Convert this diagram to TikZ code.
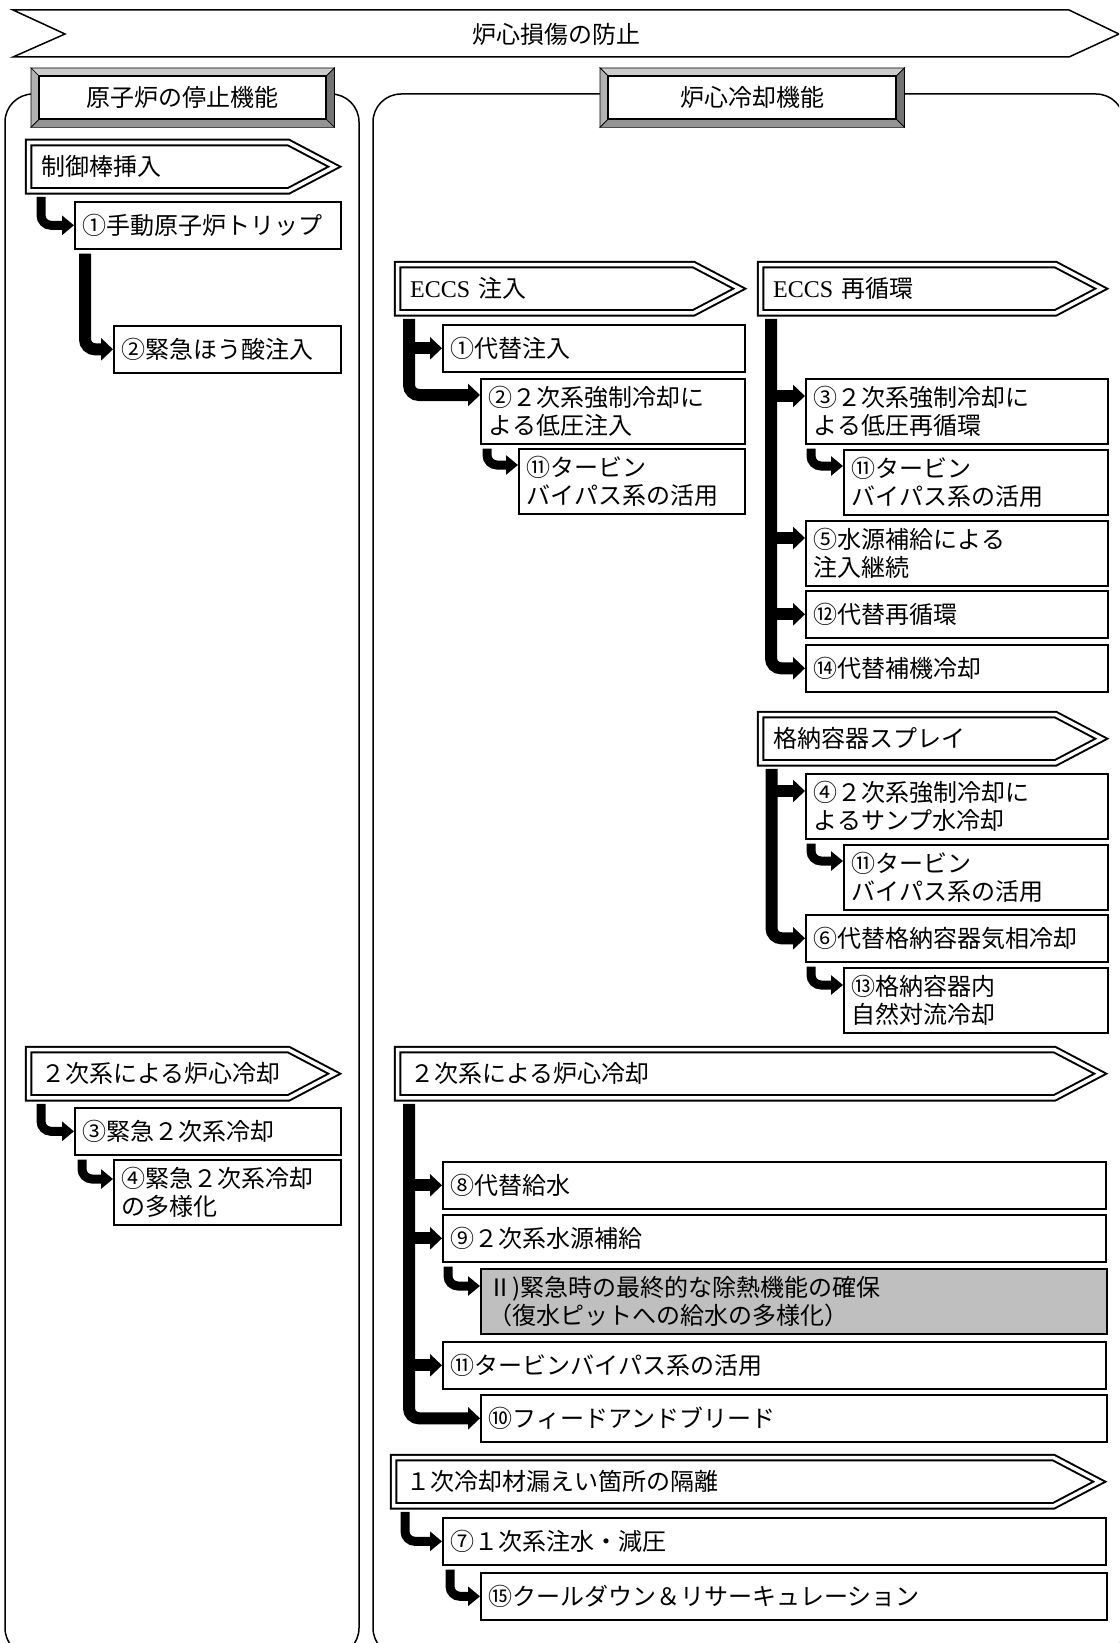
\documentclass[tikz,border=0pt]{standalone}
\usepackage{fontspec}
\setmainfont{Noto Sans CJK JP}
\newfontfamily\latinfont{Liberation Serif}
\usetikzlibrary{arrows.meta}

\tikzset{
  box/.style={draw, line width=1.6pt, fill=white, anchor=north west,
    inner xsep=8pt, inner ysep=0pt, align=left, minimum height=47pt},
  box2/.style={box, minimum height=65pt},
  greybox/.style={box2, fill=black!25},
  banner/.style={anchor=north west, inner xsep=12.5pt, inner ysep=0pt,
    align=left, minimum height=48pt},
  bannerline/.style={draw, line width=2pt, double, double distance=3.5pt},
  header/.style={draw, line width=1.4pt, fill=white, anchor=north west,
    minimum width=286pt, minimum height=42pt, inner sep=0pt},
  flow/.style={line width=12pt, rounded corners=10pt,
    -{Triangle[length=12pt,width=22pt]}},
  subflow/.style={line width=9pt, rounded corners=10pt,
    -{Triangle[length=12pt,width=19pt]}},
}

\begin{document}
\begin{tikzpicture}[x=1pt, y=-1pt, font=\fontsize{24pt}{28pt}\selectfont]
\useasboundingbox (0,0) rectangle (1119,1643);
\clip (0,0) rectangle (1119,1643);

% title arrow and the two panels
\node (prevent) at (556,34) {炉心損傷の防止};
\draw[line width=1.5pt] (13,10) -- (1069,10) -- (1119,34) -- (1069,57) -- (13,57) -- (65,34) -- cycle;
\draw[line width=1.5pt, rounded corners=28pt] (5,94) rectangle (359,1656);
\draw[line width=1.5pt, rounded corners=28pt] (373,94) rectangle (1124,1656);

% Nodes
% reactor shutdown
\node[header] (shutdown) at (39,76) {原子炉の停止機能};
\node[banner, text width=234.5pt] (rodins) at (28.5,142.5) {制御棒挿入};
\node[box, text width=250pt] (trip) at (74,201) {①手動原子炉トリップ};
\node[box, text width=211pt] (boric) at (113,325) {②緊急ほう酸注入};
\node[banner, text width=234.5pt] (sgcoolL) at (28.5,1049.5) {２次系による炉心冷却};
\node[box, text width=250pt] (sgem) at (74,1107) {③緊急２次系冷却};
\node[box2, text width=211pt] (sgdiv) at (113,1159) {④緊急２次系冷却\\の多様化};

% core cooling
\node[header, minimum width=287pt] (corecool) at (608,76) {炉心冷却機能};
\node[banner, text width=270.5pt] (eccsinj) at (397.5,264.5) {{\latinfont ECCS} 注入};
\node[box, text width=286pt] (alt1) at (442,324) {①代替注入};
\node[box2, text width=248pt] (lowp) at (480,378) {②２次系強制冷却に\\よる低圧注入};
\node[box2, text width=210pt] (tb1) at (518,448) {⑪タービン\\バイパス系の活用};

\node[banner, text width=269.5pt] (eccsrec) at (760.5,264.5) {{\latinfont ECCS} 再循環};
\node[box2, text width=286pt] (lowrec) at (805,378) {③２次系強制冷却に\\よる低圧再循環};
\node[box2, text width=248pt] (tb2) at (843,449) {⑪タービン\\バイパス系の活用};
\node[box2, text width=286pt] (srcinj) at (805,520) {⑤水源補給による\\注入継続};
\node[box, text width=286pt] (altrec) at (805,590) {⑫代替再循環};
\node[box, text width=286pt] (altcc) at (805,644) {⑭代替補機冷却};

\node[banner, text width=269.5pt] (cvspray) at (760.5,714.5) {格納容器スプレイ};
\node[box2, text width=286pt] (sump) at (805,773) {④２次系強制冷却に\\よるサンプ水冷却};
\node[box2, text width=248pt] (tb3) at (843,844) {⑪タービン\\バイパス系の活用};
\node[box, text width=286pt] (altcv) at (805,914) {⑥代替格納容器気相冷却};
\node[box2, text width=248pt] (natcv) at (843,967) {⑬格納容器内\\自然対流冷却};

\node[banner, text width=631.5pt] (sgcoolR) at (397.5,1049.5) {２次系による炉心冷却};
\node[box, text width=647pt] (altfw) at (442,1161) {⑧代替給水};
\node[box, text width=647pt] (sgsrc) at (442,1214) {⑨２次系水源補給};
\node[greybox, text width=610pt] (heat) at (480,1268) {Ⅱ)緊急時の最終的な除熱機能の確保\\（復水ピットへの給水の多様化）};
\node[box, text width=647pt] (tbp) at (442,1341) {⑪タービンバイパス系の活用};
\node[box, text width=610pt] (fnb) at (480,1394) {⑩フィードアンドブリード};

\node[banner, text width=634.5pt] (leakiso) at (393.5,1457.5) {１次冷却材漏えい箇所の隔離};
\node[box, text width=647pt] (prim) at (442,1517) {⑦１次系注水・減圧};
\node[box, text width=610pt] (cool) at (480,1572) {⑮クールダウン＆リサーキュレーション};

% banner outlines
\foreach \n in {rodins,sgcoolL,eccsinj,eccsrec,cvspray,sgcoolR,leakiso}
  \draw[bannerline] (\n.north west) -- (\n.north east) -- ([xshift=46pt]\n.east) -- (\n.south east) -- (\n.south west) -- cycle;

% bevelled frames of the two headers
\foreach \n in {shutdown,corecool}{
  \filldraw[black!20, draw=black, line width=0.7pt] ([shift={(-8pt,8pt)}]\n.north west) -- ([shift={(8pt,8pt)}]\n.north east) -- (\n.north east) -- (\n.north west) -- cycle;
  \filldraw[black!30, draw=black, line width=0.7pt] ([shift={(-8pt,8pt)}]\n.north west) -- (\n.north west) -- (\n.south west) -- ([shift={(-8pt,-8pt)}]\n.south west) -- cycle;
  \filldraw[black!55, draw=black, line width=0.7pt] ([shift={(8pt,8pt)}]\n.north east) -- ([shift={(8pt,-8pt)}]\n.south east) -- (\n.south east) -- (\n.north east) -- cycle;
  \filldraw[black!42, draw=black, line width=0.7pt] ([shift={(-8pt,-8pt)}]\n.south west) -- (\n.south west) -- (\n.south east) -- ([shift={(8pt,-8pt)}]\n.south east) -- cycle;
  \draw[line width=1.4pt] (\n.north west) rectangle (\n.south east);
}

% stems
\coordinate (injstem) at ([xshift=11.5pt,yshift=-6pt]eccsinj.south west);
\coordinate (recstem) at ([xshift=10.5pt,yshift=-6pt]eccsrec.south west);
\coordinate (spstem) at ([xshift=11pt,yshift=-6pt]cvspray.south west);
\coordinate (sgstem) at ([xshift=11.5pt,yshift=-6pt]sgcoolR.south west);
\coordinate (lowpin) at ([yshift=-17pt]lowp.north west);
\coordinate (lowrecin) at ([yshift=-18pt]lowrec.north west);
\coordinate (srcinjin) at ([yshift=-18pt]srcinj.north west);
\coordinate (sumpin) at ([yshift=-18pt]sump.north west);

% Edges
\draw[subflow] ([xshift=12.5pt,yshift=-6pt]rodins.south west) |- (trip.west);
\draw[flow] ([xshift=11pt,yshift=-4pt]trip.south west) |- (boric.west);
\draw[subflow] ([xshift=12.5pt,yshift=-6pt]sgcoolL.south west) |- (sgem.west);
\draw[subflow] ([xshift=8pt,yshift=-4pt]sgem.south west) |- ([yshift=-20pt]sgdiv.north west);

\draw[flow] (injstem) |- (lowpin);
\draw[flow] (injstem |- alt1.west) -- (alt1.west);
\draw[subflow] ([xshift=7pt,yshift=-4pt]lowp.south west) |- ([yshift=-17pt]tb1.north west);

\draw[flow] (recstem) |- (altcc.west);
\draw[flow] (recstem |- lowrecin) -- (lowrecin);
\draw[flow] (recstem |- srcinjin) -- (srcinjin);
\draw[flow] (recstem |- altrec.west) -- (altrec.west);
\draw[subflow] ([xshift=6pt,yshift=-4pt]lowrec.south west) |- ([yshift=-17pt]tb2.north west);

\draw[flow] (spstem) |- (altcv.west);
\draw[flow] (spstem |- sumpin) -- (sumpin);
\draw[subflow] ([xshift=6pt,yshift=-4pt]sump.south west) |- ([yshift=-17pt]tb3.north west);
\draw[subflow] ([xshift=6pt,yshift=-4pt]altcv.south west) |- ([yshift=-18pt]natcv.north west);

\draw[flow] (sgstem) |- (fnb.west);
\draw[flow] (sgstem |- altfw.west) -- (altfw.west);
\draw[flow] (sgstem |- sgsrc.west) -- (sgsrc.west);
\draw[flow] (sgstem |- tbp.west) -- (tbp.west);
\draw[subflow] ([xshift=6pt,yshift=-4pt]sgsrc.south west) |- ([yshift=-18pt]heat.north west);

\draw[subflow] ([xshift=11.5pt,yshift=-6pt]leakiso.south west) |- (prim.west);
\draw[subflow] ([xshift=8pt,yshift=-4pt]prim.south west) |- (cool.west);

\end{tikzpicture}
\end{document}
